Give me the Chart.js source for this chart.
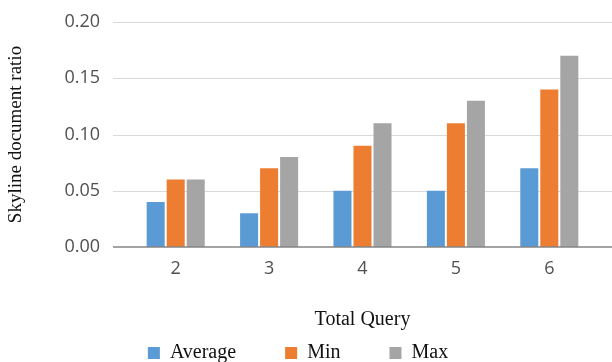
<!DOCTYPE html>
<html>
<head>
<meta charset="utf-8">
<script src="https://cdn.jsdelivr.net/npm/chart.js@4/dist/chart.umd.min.js"></script>
<style>
    html, body { margin: 0; padding: 0; overflow: hidden; background: #fff; }
    #wrap { position: relative; width: 612px; height: 373px; }
</style>
</head>
<body>
<div id="wrap"><canvas id="ratioChart"></canvas></div>
<script>
// Skyline document ratio per number of queries
const queryCounts = ['2', '3', '4', '5', '6'];
const averageRatio = [0.04, 0.03, 0.05, 0.05, 0.07];
const minRatio = [0.06, 0.07, 0.09, 0.11, 0.14];
const maxRatio = [0.06, 0.08, 0.11, 0.13, 0.17];
const yTicks = [0, 0.05, 0.10, 0.15, 0.20];

const serif = "'Liberation Serif', 'DejaVu Serif', serif";
const sans = "'Open Sans', 'DejaVu Sans', sans-serif";

// Excel-style gridlines that run past the plot area, plus the darker zero line on top
const gridPlugin = {
    id: 'excelGrid',
    beforeDatasetsDraw(chart) {
        const { ctx, chartArea, scales: { y } } = chart;
        ctx.save();
        ctx.strokeStyle = '#d9d9d9';
        ctx.lineWidth = 1;
        yTicks.forEach(v => {
            if (v === 0) return;
            const py = Math.round(y.getPixelForValue(v)) + 0.5;
            ctx.beginPath();
            ctx.moveTo(chartArea.left - 16, py);
            ctx.lineTo(chart.width, py);
            ctx.stroke();
        });
        ctx.restore();
    },
    afterDatasetsDraw(chart) {
        const { ctx, chartArea, scales: { y } } = chart;
        const py = y.getPixelForValue(0);
        ctx.save();
        ctx.strokeStyle = '#858585';
        ctx.lineWidth = 1.5;
        ctx.beginPath();
        ctx.moveTo(chartArea.left - 16, py);
        ctx.lineTo(chart.width, py);
        ctx.stroke();
        ctx.restore();
    }
};

const barStyle = { categoryPercentage: 0.643, barPercentage: 0.9, borderWidth: 0 };

new Chart(document.getElementById('ratioChart'), {
    type: 'bar',
    data: {
        labels: queryCounts,
        datasets: [
            { label: 'Average', data: averageRatio, backgroundColor: '#5b9bd5', ...barStyle },
            { label: 'Min', data: minRatio, backgroundColor: '#ed7d31', ...barStyle },
            { label: 'Max', data: maxRatio, backgroundColor: '#a5a5a5', ...barStyle }
        ]
    },
    options: {
        responsive: true,
        maintainAspectRatio: false,
        animation: false,
        layout: { padding: { top: 22, right: 16, left: 0, bottom: 0 } },
        plugins: {
            tooltip: { enabled: false },
            legend: {
                position: 'bottom',
                labels: {
                    boxWidth: 12,
                    boxHeight: 12,
                    padding: 49,
                    color: '#111',
                    font: { family: serif, size: 20 }
                }
            }
        },
        scales: {
            x: {
                grid: { display: false, drawTicks: false },
                border: { display: false },
                ticks: { color: '#505050', padding: 11, font: { family: sans, size: 18 } },
                title: {
                    display: true,
                    text: 'Total Query',
                    color: '#111',
                    padding: { top: 0, bottom: -38 },
                    font: { family: serif, size: 20 }
                },
                afterFit(scale) { scale.height = 47; }
            },
            y: {
                min: 0,
                max: 0.2,
                // tick marks are hidden; their length only spaces the labels off the plot
                grid: { display: false, drawTicks: true, tickLength: 29 },
                border: { display: false },
                afterBuildTicks(scale) { scale.ticks = yTicks.map(v => ({ value: v })); },
                ticks: {
                    color: '#505050',
                    padding: 0,
                    font: { family: sans, size: 18 },
                    callback: v => Number(v).toFixed(2)
                },
                title: {
                    display: true,
                    text: 'Skyline document ratio',
                    color: '#111',
                    padding: { top: 5, bottom: 0 },
                    font: { family: serif, size: 19 }
                },
                afterFit(scale) { scale.width = 129; }
            }
        }
    },
    plugins: [gridPlugin]
});
</script>
</body>
</html>
